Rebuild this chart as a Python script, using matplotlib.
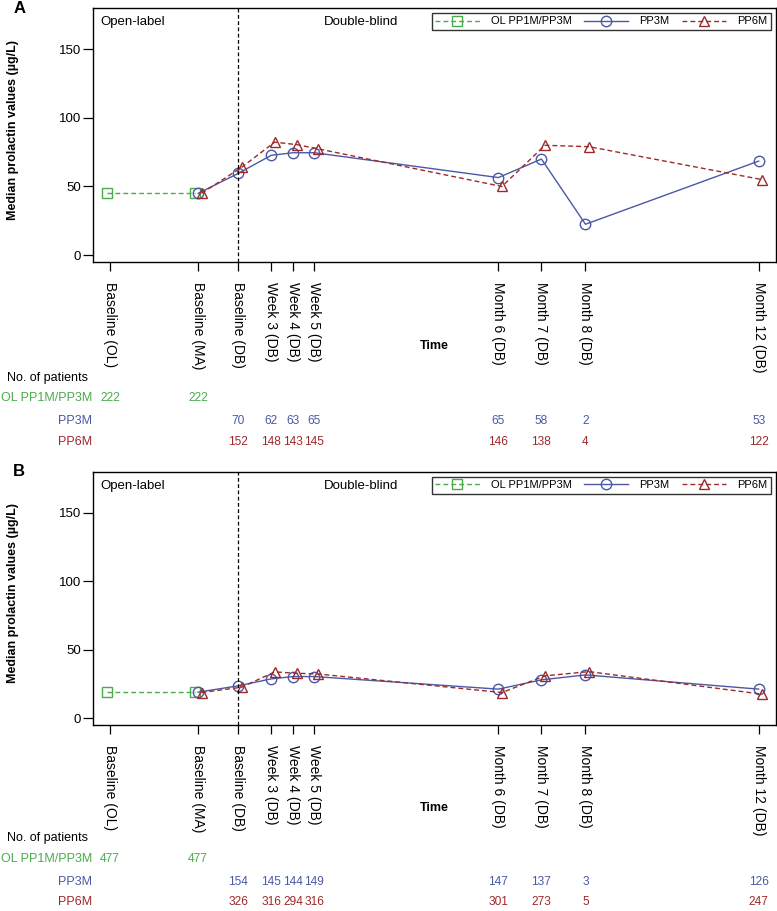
import matplotlib.pyplot as plt
import matplotlib.transforms as mtransforms
from matplotlib.lines import Line2D

plt.rcParams['font.family'] = ['Liberation Sans', 'DejaVu Sans']
plt.rcParams['font.size'] = 9

# time points (x in weeks relative to double-blind baseline)
time_labels = ['Baseline (OL)', 'Baseline (MA)', 'Baseline (DB)', 'Week 3 (DB)', 'Week 4 (DB)',
               'Week 5 (DB)', 'Month 6 (DB)', 'Month 7 (DB)', 'Month 8 (DB)', 'Month 12 (DB)']
time_x = [-12.8, -4, 0, 3.3, 5.5, 7.6, 26, 30.3, 34.7, 52]

# panel A
ol_a = [45.5, 45.5]
pp3m_a = [45, 59.5, 72.7, 74.6, 74.6, 56.5, 70, 22.5, 68.5]
pp6m_a = [45, 64, 82.3, 80.5, 77.5, 50, 80, 79, 55]
n_ol_a = ['222', '222']
n_pp3m_a = ['70', '62', '63', '65', '65', '58', '2', '53']
n_pp6m_a = ['152', '148', '143', '145', '146', '138', '4', '122']

# panel B
ol_b = [19.3, 19.3]
pp3m_b = [19, 23.6, 28.7, 30.4, 30.4, 21.2, 28, 31.6, 21.2]
pp6m_b = [18.7, 22.6, 33.8, 32.8, 32.3, 18.7, 30.9, 34, 17.5]
n_ol_b = ['477', '477']
n_pp3m_b = ['154', '145', '144', '149', '147', '137', '3', '126']
n_pp6m_b = ['326', '316', '294', '316', '301', '273', '5', '247']

green = '#4aab4a'
blue = '#4b58a6'
red = '#9c2a2a'
dash = (0, (3.5, 2.2))


def draw_panel(ax, letter, ol, pp3m, pp6m, n_ol, n_pp3m, n_pp6m, rows_y):
    ax.plot([x - 0.3 for x in time_x[:2]], ol, color=green, ls=dash, lw=1,
            marker='s', ms=7.5, mfc='none', mec=green, mew=1)
    ax.plot(time_x[1:], pp3m, color=blue, ls='-', lw=1,
            marker='o', ms=7.5, mfc='none', mec=blue, mew=1)
    ax.plot([x + 0.35 for x in time_x[1:]], pp6m, color=red, ls=dash, lw=1,
            marker='^', ms=7.5, mfc='none', mec=red, mew=1)

    ax.axvline(0, color='black', ls=(0, (3, 2)), lw=0.9)
    ax.set_xlim(-14.5, 53.7)
    ax.set_ylim(-5, 180)
    ax.set_yticks([0, 50, 100, 150])
    ax.set_xticks(time_x)
    ax.set_xticklabels(time_labels, rotation=270, fontsize=10)
    ax.tick_params(axis='x', length=6.5, pad=8, width=0.9)
    ax.tick_params(axis='y', length=7, pad=1.5, width=0.9, labelsize=9.5)
    ax.set_ylabel('Median prolactin values (µg/L)', fontweight='bold', fontsize=9)
    ax.yaxis.set_label_coords(-0.109, 0.52)
    for s in ax.spines.values():
        s.set_linewidth(1)

    ax.text(0.011, 0.945, 'Open-label', transform=ax.transAxes, fontsize=9.5, va='center')
    ax.text(0.338, 0.945, 'Double-blind', transform=ax.transAxes, fontsize=9.5, va='center')
    ax.text(-0.117, 1.0, letter, transform=ax.transAxes, fontsize=12, fontweight='bold',
            va='center', ha='left')

    handles = [
        Line2D([], [], color=green, ls=dash, lw=1, marker='s', ms=7.5, mfc='none', mec=green),
        Line2D([], [], color=blue, ls='-', lw=1, marker='o', ms=7.5, mfc='none', mec=blue),
        Line2D([], [], color=red, ls=dash, lw=1, marker='^', ms=7.5, mfc='none', mec=red),
    ]
    leg = ax.legend(handles, ['OL PP1M/PP3M', 'PP3M', 'PP6M'], loc='upper right',
                    bbox_to_anchor=(0.9927, 0.98), ncol=3, frameon=True, fancybox=False,
                    edgecolor='black', fontsize=8, handlelength=4.0, columnspacing=1.1,
                    handletextpad=1.0, borderpad=0.3, borderaxespad=0)
    leg.get_frame().set_linewidth(1)

    ax.text(0.50, -0.33, 'Time', transform=ax.transAxes, fontsize=9, fontweight='bold',
            ha='center', va='center')

    # number of patients table below the axis
    fig = ax.figure
    tr = mtransforms.blended_transform_factory(ax.transData, fig.transFigure)
    fig.text(0.009, rows_y[0], 'No. of patients', fontsize=9, va='center')
    fig.text(0.119, rows_y[1], 'OL PP1M/PP3M', color=green, fontsize=9, va='center', ha='right')
    fig.text(0.119, rows_y[2], 'PP3M', color=blue, fontsize=9, va='center', ha='right')
    fig.text(0.119, rows_y[3], 'PP6M', color=red, fontsize=9, va='center', ha='right')
    for x, n in zip(time_x[:2], n_ol):
        ax.text(x, rows_y[1], n, transform=tr, color=green, fontsize=8.6, ha='center', va='center')
    for x, n in zip(time_x[2:], n_pp3m):
        ax.text(x, rows_y[2], n, transform=tr, color=blue, fontsize=8.6, ha='center', va='center')
    for x, n in zip(time_x[2:], n_pp6m):
        ax.text(x, rows_y[3], n, transform=tr, color=red, fontsize=8.6, ha='center', va='center')


fig = plt.figure(figsize=(7.77, 9.11), dpi=100)
ax_a = fig.add_axes([0.1197, 0.7124, 0.8786, 0.2788])
ax_b = fig.add_axes([0.1197, 0.2042, 0.8786, 0.2778])

draw_panel(ax_a, 'A', ol_a, pp3m_a, pp6m_a, n_ol_a, n_pp3m_a, n_pp6m_a,
           [1 - 377.7 / 911, 1 - 398.3 / 911, 1 - 420.7 / 911, 1 - 441.7 / 911])
draw_panel(ax_b, 'B', ol_b, pp3m_b, pp6m_b, n_ol_b, n_pp3m_b, n_pp6m_b,
           [1 - 838 / 911, 1 - 859.3 / 911, 1 - 881.7 / 911, 1 - 902.3 / 911])

fig.savefig('out.png', dpi=100)
